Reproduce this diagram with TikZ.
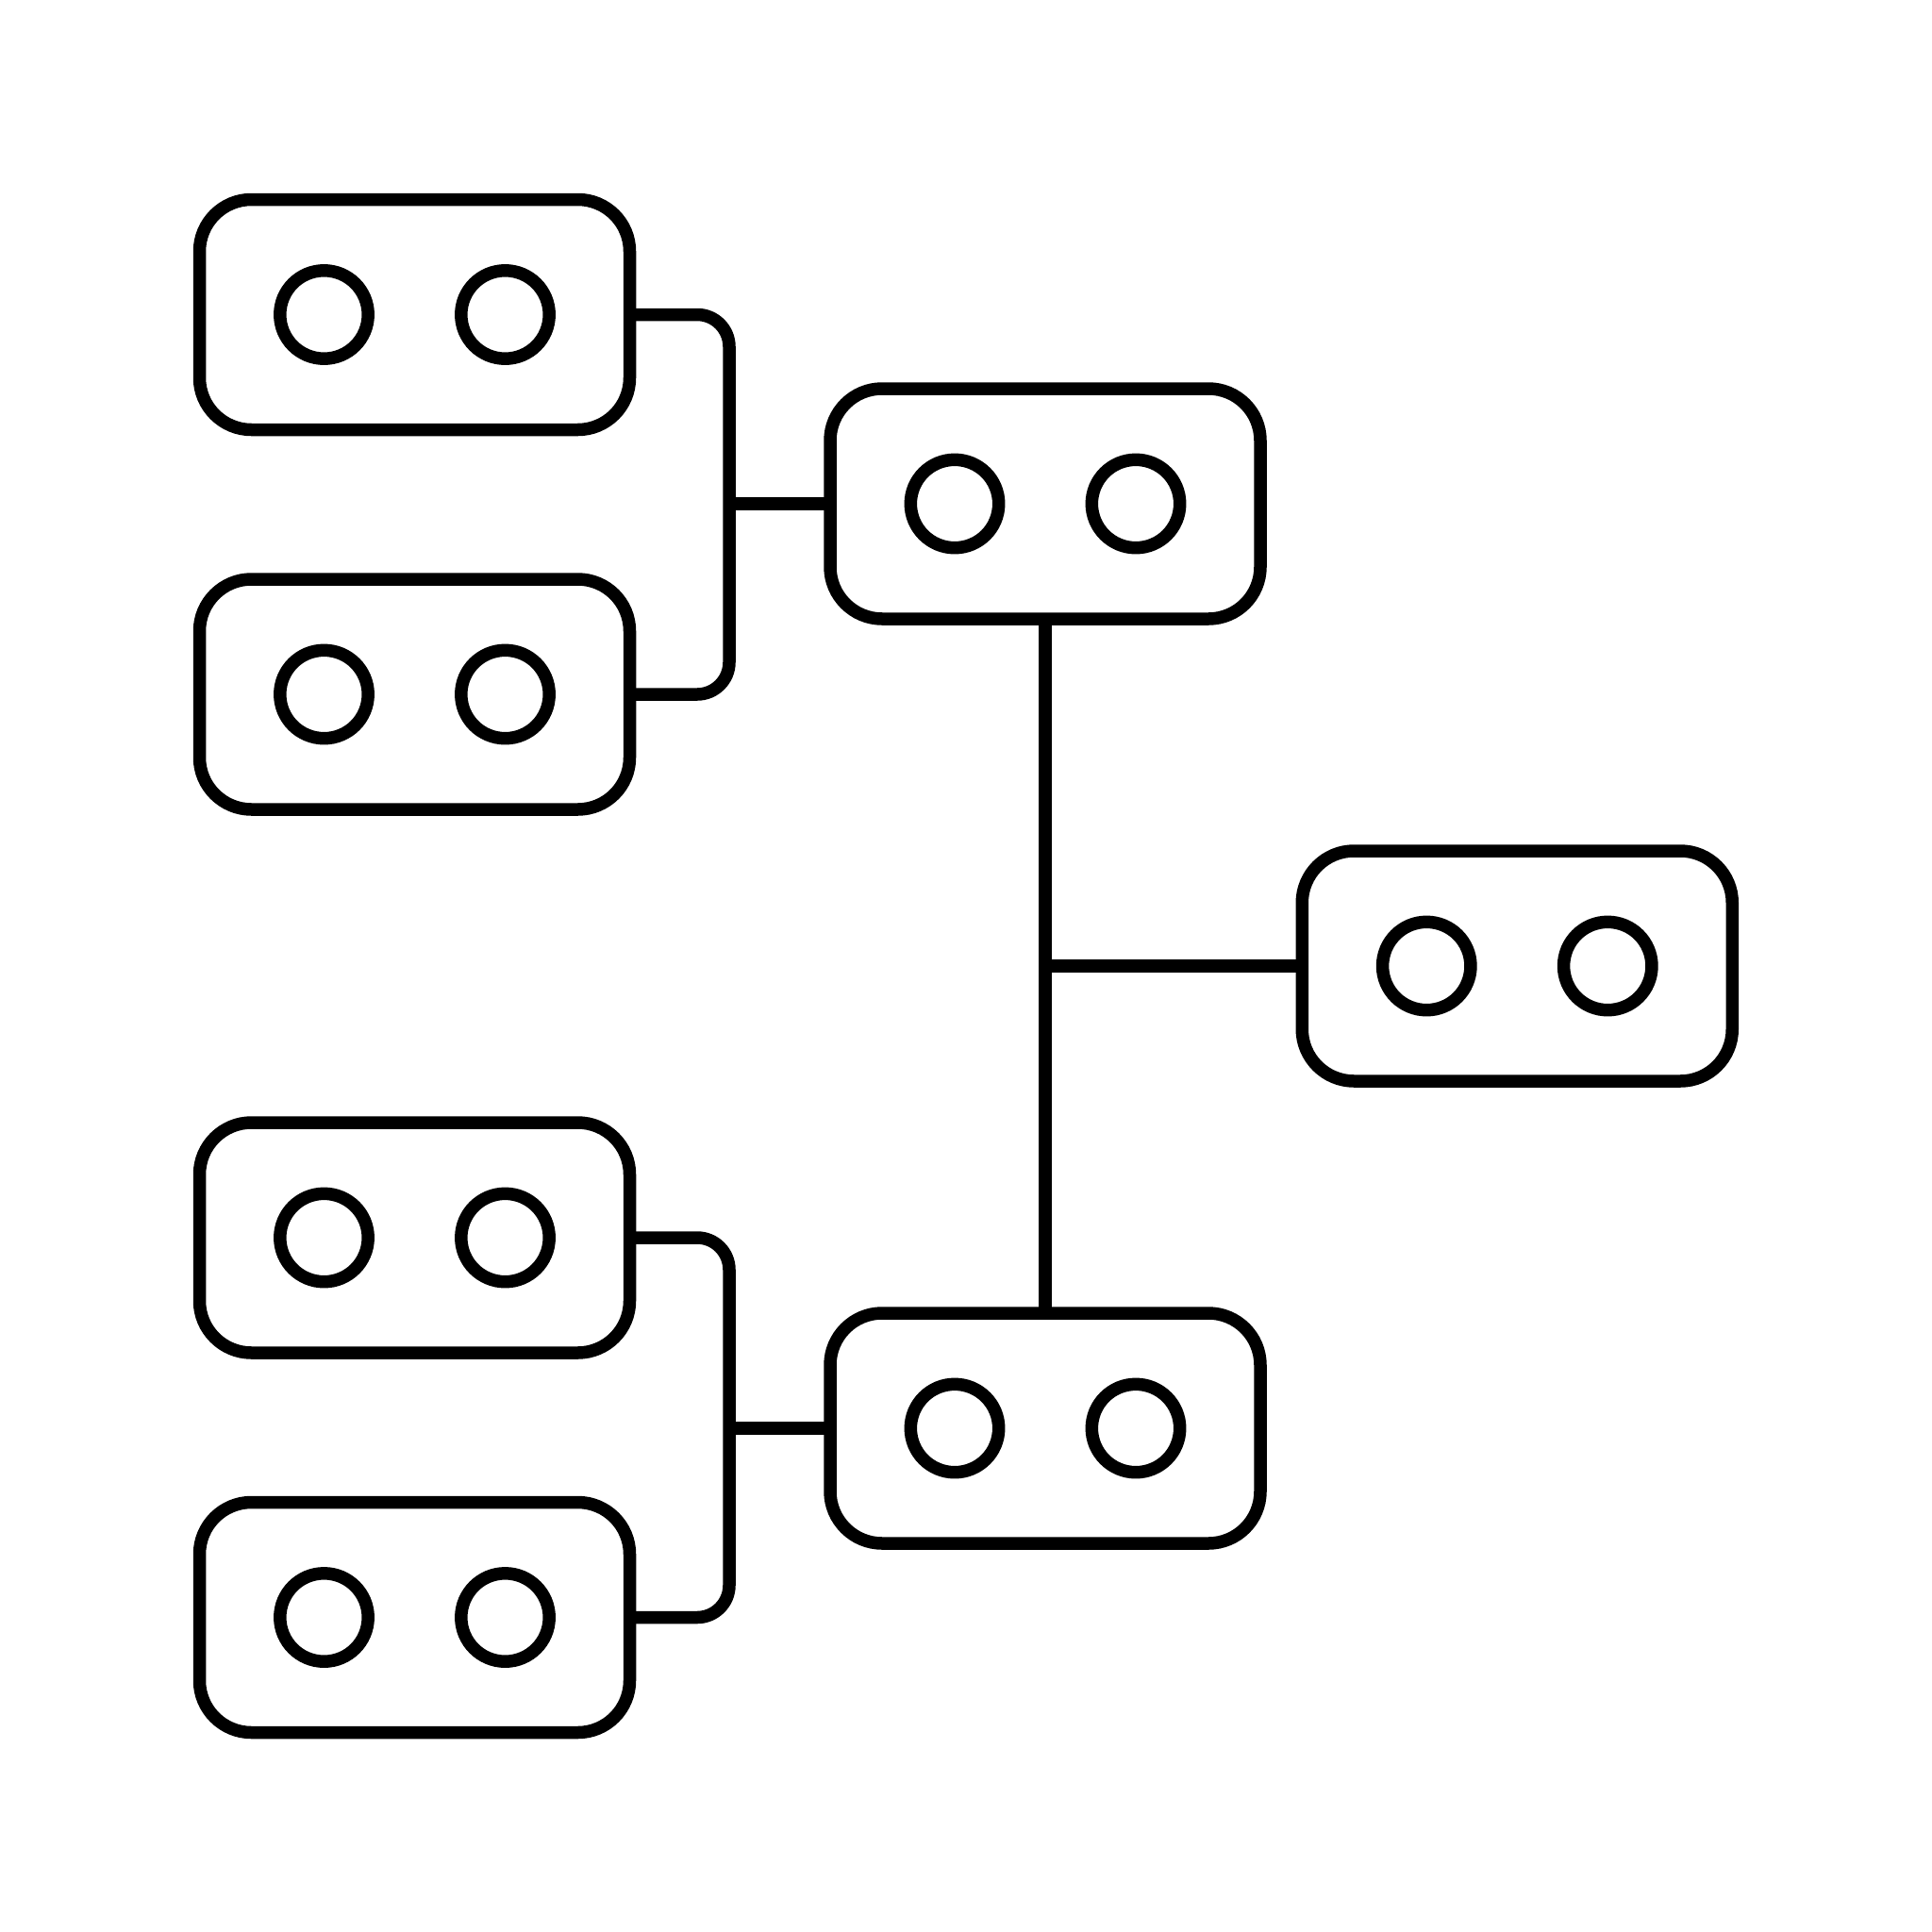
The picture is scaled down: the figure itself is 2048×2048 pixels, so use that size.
\documentclass[tikz,border=0pt]{standalone}
\begin{document}
\begin{tikzpicture}[x=1pt,y=-1pt,
  unit/.style={draw=black, line width=13.5pt, rectangle, rounded corners=55pt,
    minimum width=456pt, minimum height=244pt, inner sep=0pt, outer sep=0pt, fill=white},
  port/.style={draw=black, line width=13.5pt, circle, minimum size=93.4pt, inner sep=0pt, outer sep=0pt},
  conn/.style={draw=black, line width=13.5pt},
  elbow/.style={conn, rounded corners=34pt}]
\useasboundingbox (0,0) rectangle (2048,2048);
\fill[white] (0,0) rectangle (2048,2048);
\coordinate (busU) at (773,0);
\coordinate (busL) at (773,2048);
% boxes
\node[unit] (A) at (439.5,333.5) {};
\node[unit] (B) at (439.5,736) {};
\node[unit] (C) at (1108,534) {};
\node[unit] (D) at (1608.25,1024) {};
\node[unit] (E) at (439.5,1312) {};
\node[unit] (F) at (439.5,1714.5) {};
\node[unit] (G) at (1108,1514) {};
% ports
\foreach \b in {A,B,C,D,E,F,G}{
  \node[port] (\b1) at ([xshift=-96pt]\b.center) {};
  \node[port] (\b2) at ([xshift=96pt]\b.center) {};
}
% connectors
\draw[elbow] (A.east) -- (A.east -| busU) -- (B.east -| busU) -- (B.east);
\draw[conn] (busU |- C.west) -- (C.west);
\draw[elbow] (E.east) -- (E.east -| busL) -- (F.east -| busL) -- (F.east);
\draw[conn] (busL |- G.west) -- (G.west);
\draw[conn] (C.south) -- (G.north);
\draw[conn] (C.south |- D.west) -- (D.west);
\end{tikzpicture}
\end{document}
